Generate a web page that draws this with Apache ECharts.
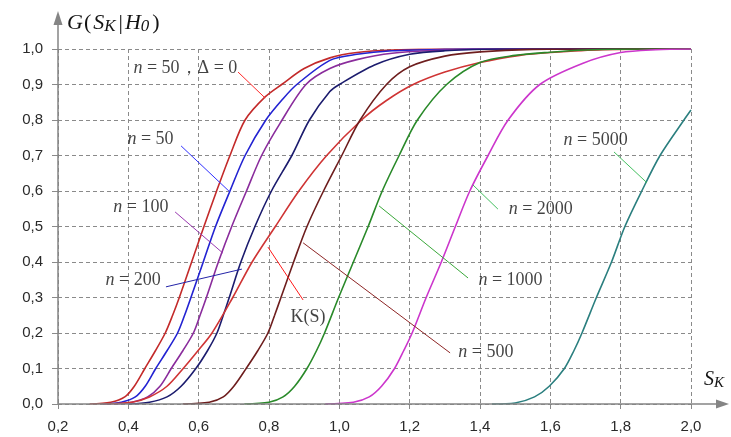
<!DOCTYPE html>
<html><head><meta charset="utf-8">
<script src="https://cdn.jsdelivr.net/npm/echarts@6/dist/echarts.min.js"></script>
<style>html,body{margin:0;padding:0;background:#fff}#c{width:731px;height:437px}</style>
</head><body><div id="c"></div><script>
// ---- data ----
const xMin = 0.2, xMax = 2.0, xStep = 0.2;
const yMin = 0, yMax = 1, yStep = 0.1;

const n50d0 = [[0.29,0],[0.35,0.005],[0.39,0.02],[0.417,0.05],[0.447,0.1],[0.477,0.15],[0.505,0.2],[0.526,0.25],[0.545,0.3],[0.58,0.4],[0.615,0.5],[0.651,0.6],[0.689,0.7],[0.732,0.8],[0.789,0.865],[0.836,0.9],[0.9,0.945],[0.973,0.975],[1.05,0.99],[1.15,0.997],[1.3,1.0],[2.0,1.0]];
const n50 = [[0.33,0],[0.38,0.005],[0.42,0.02],[0.448,0.05],[0.478,0.1],[0.51,0.15],[0.54,0.2],[0.56,0.25],[0.578,0.3],[0.613,0.4],[0.648,0.5],[0.689,0.6],[0.732,0.7],[0.791,0.8],[0.84,0.86],[0.879,0.9],[0.973,0.968],[1.05,0.985],[1.15,0.995],[1.3,0.999],[1.45,1.0],[2.0,1.0]];
const n100 = [[0.36,0],[0.41,0.005],[0.455,0.02],[0.49,0.05],[0.522,0.1],[0.555,0.15],[0.585,0.2],[0.604,0.25],[0.622,0.3],[0.656,0.4],[0.694,0.5],[0.736,0.6],[0.779,0.7],[0.831,0.79],[0.905,0.9],[0.973,0.945],[1.05,0.97],[1.15,0.988],[1.3,0.997],[1.5,1.0],[2.0,1.0]];
const n200 = [[0.40,0],[0.46,0.005],[0.51,0.02],[0.55,0.05],[0.592,0.1],[0.625,0.15],[0.652,0.2],[0.67,0.25],[0.687,0.3],[0.72,0.4],[0.76,0.5],[0.807,0.6],[0.865,0.7],[0.915,0.8],[0.973,0.88],[1.0,0.9],[1.1,0.955],[1.2,0.985],[1.3,0.995],[1.45,1.0],[2.0,1.0]];
const kS = [[0.33,0],[0.41,0.005],[0.46,0.02],[0.51,0.05],[0.556,0.1],[0.598,0.15],[0.638,0.2],[0.697,0.3],[0.752,0.4],[0.818,0.5],[0.885,0.6],[0.964,0.7],[1.063,0.8],[1.134,0.855],[1.21,0.9],[1.3,0.935],[1.4,0.962],[1.513,0.982],[1.6,0.99],[1.75,0.998],[2.0,1.0]];
const n500 = [[0.555,0],[0.63,0.005],[0.67,0.02],[0.70,0.05],[0.735,0.1],[0.768,0.15],[0.797,0.2],[0.816,0.25],[0.834,0.3],[0.87,0.4],[0.908,0.5],[0.955,0.6],[1.007,0.7],[1.059,0.8],[1.134,0.9],[1.2,0.95],[1.3,0.98],[1.4,0.992],[1.55,0.999],[1.7,1.0],[2.0,1.0]];
const n1000 = [[0.73,0],[0.80,0.005],[0.84,0.02],[0.873,0.05],[0.908,0.1],[0.935,0.15],[0.958,0.2],[0.998,0.3],[1.04,0.4],[1.082,0.5],[1.122,0.6],[1.17,0.7],[1.222,0.8],[1.305,0.9],[1.4,0.962],[1.5,0.982],[1.6,0.991],[1.7,0.997],[1.85,1.0],[2.0,1.0]];
const n2000 = [[0.96,0],[1.04,0.005],[1.085,0.02],[1.12,0.05],[1.157,0.1],[1.183,0.15],[1.207,0.2],[1.247,0.3],[1.29,0.4],[1.33,0.5],[1.371,0.6],[1.423,0.7],[1.48,0.8],[1.57,0.9],[1.693,0.96],[1.8,0.99],[1.9,0.998],[2.0,1.0]];
const n5000 = [[1.434,0],[1.5,0.003],[1.555,0.02],[1.597,0.05],[1.64,0.1],[1.667,0.15],[1.69,0.2],[1.731,0.3],[1.774,0.4],[1.812,0.5],[1.86,0.6],[1.912,0.7],[1.98,0.8],[2.0,0.828]];

const curveData = [n50d0, n50, n100, n200, kS, n500, n1000, n2000, n5000];
const curveNames = ['n=50, Δ=0','n=50','n=100','n=200','K(S)','n=500','n=1000','n=2000','n=5000'];
const curveColors = ['#c32a2a','#2323d2','#8a2c9c','#1c1c6e','#cf3434','#6e1e1e','#2a8a2a','#cc36cc','#2b7f7f'];

// annotations (text anchors and pointer lines, in data coordinates)
const labelTexts = ['{i|n} = 50，{r|Δ = 0}','{i|n} = 50','{i|n} = 100','{i|n} = 200','{r|K(S)}','{i|n} = 500','{i|n} = 1000','{i|n} = 2000','{i|n} = 5000'];
const labelPos = [[0.413,0.946],[0.396,0.746],[0.356,0.555],[0.334,0.349],[0.86,0.245],[1.337,0.146],[1.394,0.349],[1.48,0.549],[1.636,0.744]];
const pointerFrom = [[0.712,0.935],[0.55,0.727],[0.533,0.541],[0.507,0.33],[0.797,0.442],[0.897,0.454],[1.113,0.558],[1.38,0.617],[1.781,0.71]];
const pointerTo = [[0.789,0.862],[0.689,0.597],[0.669,0.425],[0.723,0.38],[0.897,0.293],[1.315,0.144],[1.366,0.355],[1.451,0.549],[1.875,0.623]];
const pointerColors = ['#ff2a2a','#3030ff','#9a38b0','#2424a8','#ff1a1a','#8e2626','#3aa83a','#44c060','#44c060'];

// ---- chart ----
const serif = "'Liberation Serif','Times New Roman',serif";
const sans = "'Liberation Sans',Arial,sans-serif";
const fmt = v => v.toFixed(1).replace('.', ',');

const series = [];
curveData.forEach((d, i) => {
  series.push({
    type: 'line', name: curveNames[i], data: d, showSymbol: false, symbol: 'none',
    smooth: 0.3, silent: true, z: 3,
    lineStyle: { color: curveColors[i], width: 1.6 }
  });
});
pointerFrom.forEach((p, i) => {
  series.push({
    type: 'line', data: [p, pointerTo[i]], symbol: 'none', silent: true, z: 4,
    lineStyle: { color: pointerColors[i], width: 1 }
  });
});
series.push({
  type: 'scatter', silent: true, symbolSize: 1, z: 5,
  itemStyle: { color: 'transparent' },
  data: labelPos.map((p, i) => ({ value: p, label: { formatter: labelTexts[i] } })),
  label: {
    show: true, position: 'right', distance: 0,
    fontFamily: serif, fontSize: 18, color: '#141414',
    rich: {
      i: { fontFamily: serif, fontSize: 18, fontStyle: 'italic', color: '#141414' },
      r: { fontFamily: serif, fontSize: 18, color: '#141414' }
    }
  }
});

const chart = echarts.init(document.getElementById('c'));
const titleRich = {
  g: { fontFamily: serif, fontSize: 22, fontStyle: 'italic', fontWeight: 'normal', color: '#141414', lineHeight: 24 },
  u: { fontFamily: serif, fontSize: 22, fontWeight: 'normal', color: '#141414', lineHeight: 24, padding: [0, 2, 0, 1] },
  sub: { fontFamily: serif, fontSize: 17, fontStyle: 'italic', fontWeight: 'normal', color: '#141414', lineHeight: 15, verticalAlign: 'bottom', padding: [0, 2, 0, 0] }
};
const skRich = {
  g: { fontFamily: serif, fontSize: 20, fontStyle: 'italic', fontWeight: 'normal', color: '#141414', lineHeight: 22 },
  sub: { fontFamily: serif, fontSize: 15, fontStyle: 'italic', fontWeight: 'normal', color: '#141414', lineHeight: 13, verticalAlign: 'bottom' }
};
chart.setOption({
  animation: false,
  backgroundColor: '#ffffff',
  grid: { left: 58, right: 40, top: 49, bottom: 33 },
  title: [
    { text: '{g|G}{u|(}{g|S}{sub|K}{u||}{g|H}{sub|0}{u|)}', left: 67, top: 11, padding: 0, textStyle: { fontWeight: 'normal', fontSize: 22, rich: titleRich } },
    { text: '{g|S}{sub|K}', left: 704, top: 369, padding: 0, textStyle: { fontWeight: 'normal', fontSize: 20, rich: skRich } }
  ],
  xAxis: {
    type: 'value', min: xMin, max: xMax, interval: xStep,
    axisLine: { show: false },
    axisTick: { show: true, length: 5, lineStyle: { color: '#8a8a8a' } },
    axisLabel: { margin: 15, fontFamily: sans, fontSize: 15, color: '#2a2a2a', formatter: fmt },
    splitLine: { show: true, lineStyle: { color: '#8a8a8a', width: 1, type: [4, 3] } }
  },
  yAxis: {
    type: 'value', min: yMin, max: yMax, interval: yStep,
    axisLine: { show: false },
    axisTick: { show: true, length: 6, lineStyle: { color: '#8a8a8a' } },
    axisLabel: { margin: 15, fontFamily: sans, fontSize: 15, color: '#2a2a2a', formatter: fmt },
    splitLine: { show: true, lineStyle: { color: '#8a8a8a', width: 1, type: [4, 3] } }
  },
  series: series
});

const o = chart.convertToPixel({ gridIndex: 0 }, [xMin, yMin]);
const xe = chart.convertToPixel({ gridIndex: 0 }, [xMax, yMin]);
const ye = chart.convertToPixel({ gridIndex: 0 }, [xMin, yMax]);
const axisColor = '#858585';
chart.setOption({
  graphic: [
    { type: 'line', z: 10, shape: { x1: o[0], y1: o[1], x2: o[0], y2: ye[1] - 24 }, style: { stroke: axisColor, lineWidth: 1.5 } },
    { type: 'polygon', z: 10, shape: { points: [[o[0], ye[1] - 38], [o[0] - 4.5, ye[1] - 24], [o[0] + 4.5, ye[1] - 24]] }, style: { fill: axisColor } },
    { type: 'line', z: 10, shape: { x1: o[0], y1: o[1], x2: xe[0] + 26, y2: o[1] }, style: { stroke: axisColor, lineWidth: 1.5 } },
    { type: 'polygon', z: 10, shape: { points: [[xe[0] + 38, o[1]], [xe[0] + 25, o[1] - 4.5], [xe[0] + 25, o[1] + 4.5]] }, style: { fill: axisColor } }
  ]
});
</script></body></html>
